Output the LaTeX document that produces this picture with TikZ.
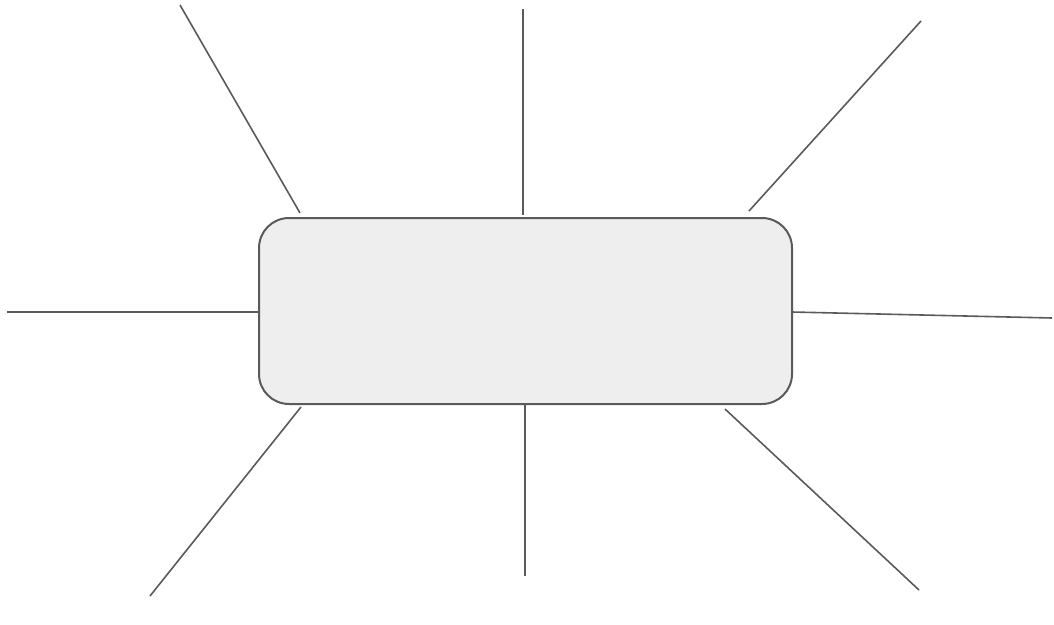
\documentclass[tikz,border=0pt]{standalone}
\usetikzlibrary{positioning}
\definecolor{raygray}{HTML}{5A5A5A}
\definecolor{boxfill}{HTML}{EEEEEE}
\tikzset{
  centerbox/.style={draw=raygray, fill=boxfill, line width=2pt, rounded corners=30pt,
    minimum width=533pt, minimum height=186pt, inner sep=0pt},
  ray/.style={draw=raygray, line width=1.6pt}
}

\begin{document}
\begin{tikzpicture}[x=1pt,y=-1pt]
		%%%%% START %%%%%
		\useasboundingbox (0,0) rectangle (1054,624);
		
		\node[centerbox] (box) at (525.5,311) {};
		
		% inner and outer ends of the rays
		\coordinate (ulin) at (300,213);   \coordinate (ulout) at (180,5);
		\coordinate (tin) at (523,215);    \coordinate (tout) at (523,9);
		\coordinate (urin) at (749,211);   \coordinate (urout) at (921,21);
		\coordinate (lin) at (259,312);    \coordinate (lout) at (7,312);
		\coordinate (rin) at (792,312);    \coordinate (rout) at (1052,318);
		\coordinate (llin) at (301,407);   \coordinate (llout) at (150,596);
		\coordinate (bin) at (525,405);    \coordinate (bout) at (525,576);
		\coordinate (lrin) at (725,409);   \coordinate (lrout) at (919,590);
		
		\foreach \r in {ul,t,ur,l,r,ll,b,lr}
			\draw[ray] (\r in) -- (\r out);
		
		%%%%% END %%%%%
	\end{tikzpicture}
\end{document}
